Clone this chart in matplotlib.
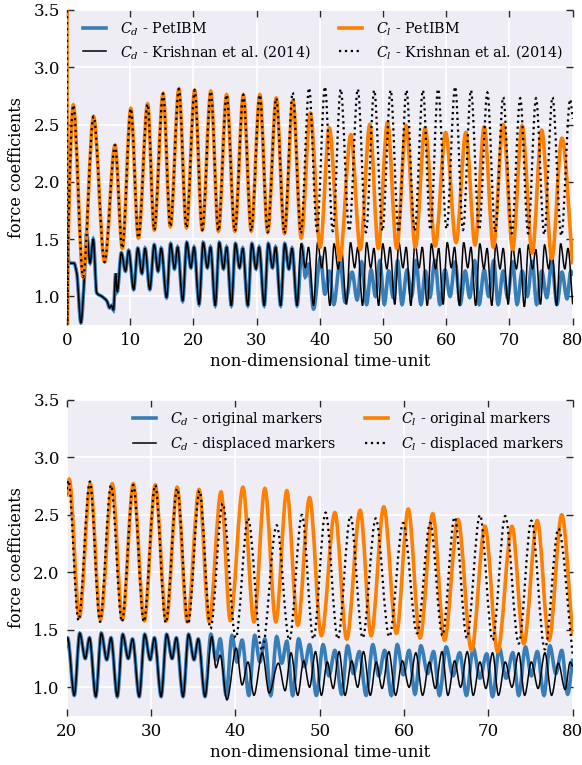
import numpy as np
import matplotlib
matplotlib.use("Agg")
import matplotlib.pyplot as plt
from matplotlib.path import Path
from matplotlib.patches import PathPatch
from matplotlib.lines import Line2D

# ---------------- data (extrema) ----------------
# Top panel: lift coefficient, PetIBM
cl_petibm_t = [0.0, 0.04, 0.2, 1.0, 2.55, 4.2, 5.95, 7.6, 8.75, 10.1, 11.3, 12.75, 13.8, 15.2, 16.35,
               17.7, 18.9, 20.2, 21.4, 22.75, 23.95, 25.25, 26.55, 27.9, 29.15, 30.5, 31.75, 33.1, 34.4,
               35.75, 37.05, 38.5, 40.05, 41.5, 43.15, 44.9, 46.4, 47.9, 49.25, 50.7, 52.15, 53.65, 55.1,
               56.65, 58.25, 59.9, 61.55, 63.1, 64.55, 66.0, 67.45, 69.0, 70.5, 72.0, 73.6, 75.1, 76.7,
               78.3, 80.0]
cl_petibm_v = [3.6, 0.7, 1.5, 2.67, 1.17, 2.57, 1.30, 2.32, 1.42, 2.64, 1.51, 2.68, 1.58, 2.77, 1.61,
               2.81, 1.60, 2.80, 1.58, 2.79, 1.57, 2.76, 1.57, 2.76, 1.57, 2.76, 1.56, 2.73, 1.55,
               2.71, 1.51, 2.60, 1.43, 2.47, 1.32, 2.41, 1.41, 2.50, 1.42, 2.52, 1.42, 2.49, 1.43,
               2.47, 1.44, 2.43, 1.47, 2.43, 1.45, 2.48, 1.43, 2.50, 1.41, 2.49, 1.38, 2.45, 1.33,
               2.38, 1.28]

# Top panel: lift coefficient, Krishnan et al. (2014)
cl_krishnan_t = cl_petibm_t[:29] + [35.7, 37.0, 38.3, 39.55, 40.8, 42.05, 43.3, 44.65, 46.0, 47.3, 48.6,
                                    49.9, 51.2, 52.45, 53.7, 55.0, 56.3, 57.5, 58.7, 60.05, 61.4, 62.65,
                                    63.9, 65.2, 66.5, 67.75, 69.0, 70.35, 71.7, 72.95, 74.2, 75.5, 76.8,
                                    78.2, 79.6, 80.0]
cl_krishnan_v = cl_petibm_v[:29] + [2.78, 1.55, 2.82, 1.57, 2.83, 1.57, 2.81, 1.57, 2.81, 1.56, 2.80,
                                    1.57, 2.80, 1.56, 2.80, 1.57, 2.80, 1.58, 2.81, 1.59, 2.83, 1.58,
                                    2.80, 1.58, 2.78, 1.56, 2.74, 1.55, 2.73, 1.55, 2.73, 1.54, 2.74,
                                    1.53, 2.72, 2.55]

# Drag coefficient, part shared by all runs (t <= 36.4)
cd_common_t = [0.0, 0.35, 1.1, 1.55, 2.2, 2.75, 3.1, 3.65, 4.15, 4.7, 5.5, 6.3, 6.75, 7.05, 7.35, 7.7, 7.95,
               8.6, 9.25, 9.75, 10.55, 11.2, 11.85, 12.35, 13.1, 13.8, 14.4, 14.9, 15.75,
               16.4, 17.0, 17.5, 18.3, 18.95, 19.6, 20.1, 20.9, 21.55, 22.2, 22.7, 23.45,
               24.1, 24.75, 25.25, 26.0, 26.65, 27.3, 27.8, 28.6, 29.25, 29.9, 30.4, 31.2,
               31.85, 32.5, 33.0, 33.8, 34.45, 35.1, 35.6, 36.4]
cd_common_v = [1.47, 1.29, 1.29, 1.20, 0.77, 1.17, 1.55, 1.29, 1.50, 1.03, 1.00, 0.96, 0.90, 0.92, 0.88, 1.20, 1.04,
               1.38, 1.22, 1.40, 1.06, 1.42, 1.20, 1.42, 1.06, 1.45, 1.22, 1.42, 0.99,
               1.46, 1.24, 1.43, 0.96, 1.47, 1.25, 1.43, 0.93, 1.47, 1.25, 1.43, 0.92,
               1.47, 1.24, 1.43, 0.92, 1.46, 1.25, 1.42, 0.92, 1.46, 1.24, 1.43, 0.92,
               1.46, 1.25, 1.43, 0.92, 1.46, 1.24, 1.42, 0.92]

# Top panel: drag coefficient, Krishnan et al. (2014), after t = 36.4
cd_krishnan_tail_t = [37.05, 37.7, 38.2, 39.0, 39.65, 40.3, 40.8, 41.6, 42.25, 42.9, 43.4, 44.2,
                      44.85, 45.5, 46.0, 46.75, 47.4, 48.05, 48.55, 49.3, 49.95, 50.6, 51.1, 51.85,
                      52.5, 53.15, 53.65, 54.4, 55.05, 55.7, 56.2, 57.0, 57.65, 58.3, 58.8, 59.5,
                      60.15, 60.8, 61.3, 62.1, 62.75, 63.4, 63.9, 64.65, 65.3, 65.95, 66.45, 67.2,
                      67.85, 68.5, 69.0, 69.8, 70.45, 71.1, 71.6, 72.35, 73.0, 73.65, 74.15, 74.9,
                      75.55, 76.2, 76.7, 77.45, 78.1, 78.75, 79.25, 80.0]
cd_krishnan_tail_v = [1.46, 1.25, 1.43, 0.92, 1.47, 1.25, 1.43, 0.92, 1.46, 1.24, 1.43, 0.93,
                      1.47, 1.25, 1.43, 0.92, 1.47, 1.25, 1.42, 0.92, 1.46, 1.24, 1.43, 0.93,
                      1.47, 1.25, 1.43, 0.92, 1.47, 1.25, 1.43, 0.92, 1.46, 1.24, 1.42, 0.93,
                      1.47, 1.25, 1.43, 0.92, 1.47, 1.25, 1.43, 0.92, 1.46, 1.24, 1.42, 0.92,
                      1.46, 1.24, 1.42, 0.93, 1.45, 1.24, 1.42, 0.91, 1.45, 1.24, 1.41, 0.93,
                      1.45, 1.24, 1.42, 0.92, 1.46, 1.24, 1.42, 0.93]

# Top panel: drag coefficient, PetIBM, after t = 36.4
cd_petibm_tail_t = [37.2, 37.7, 38.2, 39.0, 40.1, 40.8, 41.5, 42.2, 43.2, 44.0, 45.1, 45.9, 46.6, 47.4,
                    48.1, 48.8, 49.5, 50.2, 50.9, 51.6, 52.3, 53.0, 53.8, 54.5, 55.2, 56.0, 56.7, 57.4,
                    58.2, 59.0, 59.8, 60.6, 61.4, 62.2, 63.0, 63.7, 64.5, 65.2, 66.0, 66.7, 67.5, 68.2,
                    69.0, 69.7, 70.5, 71.2, 72.0, 72.8, 73.6, 74.3, 75.1, 75.9, 76.7, 77.5, 78.3, 79.1,
                    79.7, 80.0]
cd_petibm_tail_v = [1.44, 1.17, 1.28, 0.89, 1.34, 1.02, 1.22, 0.93, 1.30, 0.95, 1.21, 0.97, 1.30, 0.93,
                    1.23, 1.00, 1.31, 0.93, 1.22, 0.99, 1.31, 0.93, 1.23, 1.00, 1.31, 0.93, 1.22, 0.99,
                    1.31, 0.93, 1.23, 1.00, 1.30, 0.93, 1.22, 0.99, 1.31, 0.93, 1.23, 1.00, 1.31, 0.93,
                    1.22, 0.99, 1.30, 0.93, 1.22, 1.00, 1.30, 0.93, 1.22, 0.99, 1.30, 0.93, 1.21, 0.98,
                    1.22, 1.18]

cd_petibm_t = cd_common_t + cd_petibm_tail_t
cd_petibm_v = cd_common_v + cd_petibm_tail_v
cd_krishnan_t = cd_common_t + cd_krishnan_tail_t
cd_krishnan_v = cd_common_v + cd_krishnan_tail_v

# Bottom panel: original markers
cl_orig_t = [20.0, 20.3, 21.5, 22.8, 24.0, 25.4, 26.6, 27.9, 29.2, 30.5, 31.8, 33.1, 34.3, 35.7, 36.9,
             38.3, 39.4, 40.9, 42.2, 43.5, 44.8, 46.1, 47.4, 48.8, 50.2, 51.8, 53.2, 54.8, 56.1, 57.6,
             59.1, 60.5, 61.9, 63.4, 64.8, 66.4, 68.0, 69.6, 71.1, 72.8, 74.2, 75.8, 77.2, 78.7, 80.0]
cl_orig_v = [2.66, 2.81, 1.61, 2.77, 1.59, 2.77, 1.59, 2.77, 1.58, 2.76, 1.58, 2.74, 1.57, 2.72, 1.57,
             2.70, 1.58, 2.74, 1.57, 2.73, 1.57, 2.71, 1.54, 2.65, 1.45, 2.52, 1.42, 2.54, 1.45, 2.57,
             1.47, 2.55, 1.43, 2.51, 1.41, 2.46, 1.32, 2.40, 1.31, 2.40, 1.38, 2.45, 1.41, 2.50, 1.45]

cd_orig_tail_t = [37.1, 37.7, 38.2, 38.9, 39.6, 40.2, 40.8, 41.6, 42.3, 42.9, 43.5, 44.2, 44.9, 45.5,
                  46.1, 46.8, 47.5, 48.2, 48.8, 49.6, 50.4, 51.1, 51.8, 52.6, 53.3, 54.0, 54.7, 55.5,
                  56.3, 57.0, 57.7, 58.5, 59.2, 59.9, 60.6, 61.3, 62.0, 62.8, 63.5, 64.2, 65.0, 65.8,
                  66.6, 67.4, 68.2, 69.0, 69.8, 70.5, 71.3, 72.1, 72.9, 73.6, 74.4, 75.1, 75.8, 76.6,
                  77.3, 78.0, 78.7, 79.4, 80.0]
cd_orig_tail_v = [1.46, 1.24, 1.42, 0.93, 1.45, 1.22, 1.41, 0.93, 1.45, 1.22, 1.42, 0.93, 1.44, 1.21,
                  1.40, 0.93, 1.42, 1.18, 1.37, 0.93, 1.37, 1.10, 1.32, 0.94, 1.36, 1.12, 1.31, 0.93,
                  1.37, 1.10, 1.32, 0.93, 1.37, 1.11, 1.32, 0.94, 1.36, 1.12, 1.31, 0.93, 1.35, 1.10,
                  1.30, 0.93, 1.34, 1.08, 1.29, 0.92, 1.34, 1.08, 1.30, 0.93, 1.35, 1.10, 1.31, 0.93,
                  1.36, 1.12, 1.32, 0.94, 1.25]
cd_orig_t = cd_common_t + cd_orig_tail_t
cd_orig_v = cd_common_v + cd_orig_tail_v

# Bottom panel: displaced markers (same run as PetIBM in the top panel)
cl_disp_t, cl_disp_v = cl_petibm_t, cl_petibm_v
cd_disp_t, cd_disp_v = cd_petibm_t, cd_petibm_v

# ---------------- style ----------------
BLUE = "#377eb8"
ORANGE = "#ff7f00"
BG = "#eeedf5"

plt.rcParams["font.family"] = ["DejaVu Serif"]
plt.rcParams["mathtext.fontset"] = "dejavuserif"


def pchip_slopes(x, y):
    h = np.diff(x)
    d = np.diff(y) / h
    m = np.zeros_like(y)
    for k in range(1, len(y) - 1):
        if d[k - 1] * d[k] > 0:
            w1 = 2 * h[k] + h[k - 1]
            w2 = h[k] + 2 * h[k - 1]
            m[k] = (w1 + w2) / (w1 / d[k - 1] + w2 / d[k])
    m[0] = d[0]
    m[-1] = d[-1]
    return m


def smooth_curve(ax, x, y, **kw):
    """Draw a smooth curve through the given points as a cubic Bezier path."""
    x = np.asarray(x, float)
    y = np.asarray(y, float)
    m = pchip_slopes(x, y)
    verts = [(x[0], y[0])]
    codes = [Path.MOVETO]
    for k in range(len(x) - 1):
        h = x[k + 1] - x[k]
        verts += [(x[k] + h / 3, y[k] + m[k] * h / 3),
                  (x[k + 1] - h / 3, y[k + 1] - m[k + 1] * h / 3),
                  (x[k + 1], y[k + 1])]
        codes += [Path.CURVE4] * 3
    ax.add_patch(PathPatch(Path(verts, codes), fill=False, **kw))


def style_axes(ax, xlim, xticks):
    ax.set_facecolor(BG)
    ax.grid(True, color="white", lw=1.2)
    ax.set_axisbelow(True)
    for s in ax.spines.values():
        s.set_visible(False)
    ax.set_xlim(*xlim)
    ax.set_ylim(0.75, 3.5)
    ax.set_xticks(xticks)
    ax.set_yticks([1.0, 1.5, 2.0, 2.5, 3.0, 3.5])
    ax.tick_params(direction="in", length=5, width=1, top=True, right=True,
                   color="0.15", labelsize=12, pad=5)
    ax.set_xlabel("non-dimensional time-unit", fontsize=12, labelpad=3)
    ax.set_ylabel("force coefficients", fontsize=11.5, labelpad=6)


fig = plt.figure(figsize=(5.82, 7.65), dpi=100)
ax1 = fig.add_axes([67 / 582, 1 - 325 / 765, 505.7 / 582, 315 / 765])
ax2 = fig.add_axes([66.7 / 582, 1 - 716 / 765, 506 / 582, 316 / 765])

kw_blue = dict(edgecolor=BLUE, lw=2.6)
kw_black = dict(edgecolor="black", lw=1.1)
kw_orange = dict(edgecolor=ORANGE, lw=2.6)
kw_dot = dict(edgecolor="black", lw=1.6, linestyle=":")

# top panel
smooth_curve(ax1, cd_petibm_t, cd_petibm_v, **kw_blue)
smooth_curve(ax1, cd_krishnan_t, cd_krishnan_v, **kw_black)
smooth_curve(ax1, cl_petibm_t, cl_petibm_v, **kw_orange)
smooth_curve(ax1, cl_krishnan_t, cl_krishnan_v, **kw_dot)
style_axes(ax1, (0, 80), range(0, 81, 10))

# bottom panel
smooth_curve(ax2, cd_orig_t, cd_orig_v, **kw_blue)
smooth_curve(ax2, cd_disp_t, cd_disp_v, **kw_black)
smooth_curve(ax2, cl_orig_t, cl_orig_v, **kw_orange)
smooth_curve(ax2, cl_disp_t, cl_disp_v, **kw_dot)
style_axes(ax2, (20, 80), range(20, 81, 10))


def handles(labels):
    return [Line2D([], [], color=BLUE, lw=2.6, label=labels[0]),
            Line2D([], [], color="black", lw=1.1, label=labels[1]),
            Line2D([], [], color=ORANGE, lw=2.6, label=labels[2]),
            Line2D([], [], color="black", lw=1.6, ls=":", label=labels[3])]


leg_kw = dict(ncol=2, frameon=False, fontsize=10.3, handlelength=1.6, handletextpad=0.95,
              columnspacing=2.05, loc="upper left", borderaxespad=0)
ax1.legend(handles=handles([r"$C_d$ - PetIBM", r"$C_d$ - Krishnan et al. (2014)",
                            r"$C_l$ - PetIBM", r"$C_l$ - Krishnan et al. (2014)"]),
           bbox_to_anchor=(0.0204, 0.985), labelspacing=0.35, **leg_kw)
ax2.legend(handles=handles([r"$C_d$ - original markers", r"$C_d$ - displaced markers",
                            r"$C_l$ - original markers", r"$C_l$ - displaced markers"]),
           bbox_to_anchor=(0.12, 0.985), labelspacing=0.45, **leg_kw)

fig.savefig("out.png", dpi=100)
